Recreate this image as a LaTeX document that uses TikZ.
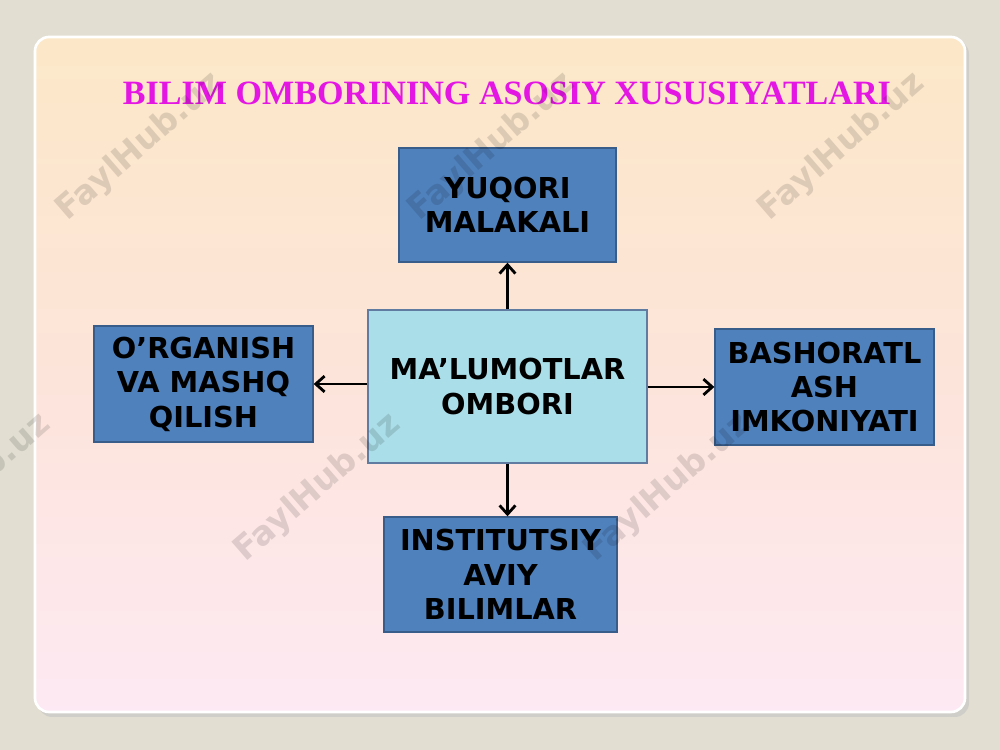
\documentclass[tikz,border=0pt]{standalone}
\usepackage{fontspec}
\setmainfont{DejaVu Sans}
\newfontfamily\titlefont{Liberation Serif}
\usetikzlibrary{arrows.meta,positioning}
\definecolor{pagegray}{RGB}{226,223,210}
\definecolor{slidetop}{RGB}{252,232,200}
\definecolor{slidemid}{RGB}{253,228,218}
\definecolor{slidebot}{RGB}{253,233,243}
\definecolor{boxblue}{RGB}{79,129,189}
\definecolor{boxedge}{RGB}{56,93,138}
\definecolor{poolcyan}{RGB}{170,222,232}
\definecolor{titlemag}{RGB}{228,22,228}
\tikzset{
	bluebox/.style={draw=boxedge,line width=0.8pt,fill=boxblue,align=center,
		font=\fontsize{16.4}{19.6}\selectfont\bfseries,inner sep=0pt},
	poolbox/.style={draw=boxedge!80,line width=0.8pt,fill=poolcyan,align=center,
		font=\fontsize{16.4}{19.6}\selectfont\bfseries,inner sep=0pt},
	link/.style={line width=1.6pt,-{Straight Barb[length=5pt,width=9pt]}},
	wmark/.style={rotate=41,text=black,opacity=0.12,font=\fontsize{19}{19}\selectfont\bfseries}
}
\begin{document}
\begin{tikzpicture}[x=0.02cm,y=0.02cm]
		\useasboundingbox (0,0) rectangle (1000,750);
		\fill[pagegray] (0,0) rectangle (1000,750);
		% slide
		\fill[black!25,opacity=0.5,rounded corners=8] (38,33) rectangle (969,710);
		\shade[top color=slidetop,bottom color=slidebot,middle color=slidemid,
			draw=white,line width=1.5pt,rounded corners=8] (35,38) rectangle (965,713);
		\node[text=titlemag,font=\titlefont\fontsize{19.4}{22}\selectfont\bfseries] (title) at (507,657) {BILIM OMBORINING ASOSIY XUSUSIYATLARI};
		% boxes
		\node[poolbox,minimum width=5.58cm,minimum height=3.06cm] (pool) at (507.5,363.5) {MA’LUMOTLAR\\OMBORI};
		\node[bluebox,minimum width=4.34cm,minimum height=2.28cm] (top) at (507.5,545) {YUQORI\\MALAKALI};
		\node[bluebox,minimum width=4.38cm,minimum height=2.32cm] (left) at (203.5,366) {O’RGANISH\\VA MASHQ\\QILISH};
		\node[bluebox,minimum width=4.38cm,minimum height=2.32cm] (right) at (824.5,363) {BASHORATL\\ASH\\IMKONIYATI};
		\node[bluebox,minimum width=4.66cm,minimum height=2.30cm] (bottom) at (500.5,175.5) {INSTITUTSIY\\AVIY\\BILIMLAR};
		% arrows
		\draw[link] (pool.north) -- (top.south);
		\draw[link] (pool.south) -- (pool.south |- bottom.north);
		\draw[link] (pool.west |- left.east) -- (left.east);
		\draw[link] (pool.east |- right.west) -- (right.west);
		% watermarks
		\begin{scope}
			\clip (0,0) rectangle (1000,750);
			\node[wmark] (wm1) at (140,603) {FaylHub.uz};
			\node[wmark] (wm2) at (492,603) {FaylHub.uz};
			\node[wmark] (wm3) at (842,603) {FaylHub.uz};
			\node[wmark] (wm4) at (-32,262) {FaylHub.uz};
			\node[wmark] (wm5) at (318,262) {FaylHub.uz};
			\node[wmark] (wm6) at (668,262) {FaylHub.uz};
		\end{scope}
	\end{tikzpicture}
\end{document}
